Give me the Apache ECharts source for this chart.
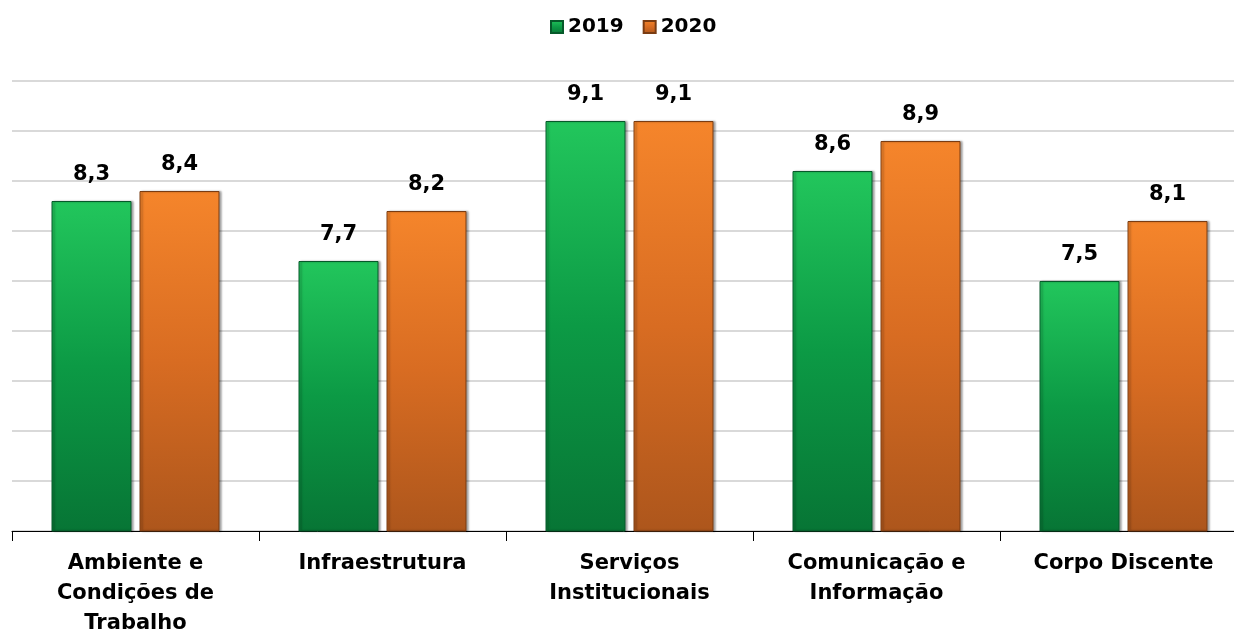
<!DOCTYPE html>
<html>
<head>
<meta charset="utf-8">
<script src="https://cdn.jsdelivr.net/npm/echarts@6/dist/echarts.min.js"></script>
<style>
  html, body { margin: 0; padding: 0; background: #fff; }
  #chart { width: 1234px; height: 633px; }
</style>
</head>
<body>
<div id="chart"></div>
<script>
const categories = [
  'Ambiente e\nCondições de\nTrabalho',
  'Infraestrutura',
  'Serviços\nInstitucionais',
  'Comunicação e\nInformação',
  'Corpo Discente'
];
const values2019 = [8.3, 7.7, 9.1, 8.6, 7.5];
const values2020 = [8.4, 8.2, 9.1, 8.9, 8.1];

const chart = echarts.init(document.getElementById('chart'));

const fontFamily = '"DejaVu Sans", sans-serif';

function barFill(top, mid, bottom) {
  return {
    type: 'linear', x: 0, y: 0, x2: 0, y2: 1,
    colorStops: [
      { offset: 0, color: top },
      { offset: 0.5, color: mid },
      { offset: 1, color: bottom }
    ]
  };
}

const labelStyle = {
  show: true,
  position: 'top',
  distance: 16,
  fontFamily: fontFamily,
  fontSize: 21,
  fontWeight: 'bold',
  color: '#000',
  formatter: (p) => p.value.toFixed(1).replace('.', ',')
};

const option = {
  animation: false,
  legend: {
    top: 12,
    left: 545,
    itemWidth: 12,
    itemHeight: 12,
    itemGap: 19,
    icon: 'rect',
    textStyle: {
      fontFamily: fontFamily,
      fontSize: 20,
      fontWeight: 'bold',
      color: '#000'
    },
    data: ['2019', '2020']
  },
  grid: {
    left: 12,
    top: 81,
    right: -13,
    bottom: 102,
    outerBoundsMode: 'none',
    containLabel: false
  },
  xAxis: {
    type: 'category',
    data: categories,
    axisLine: { lineStyle: { color: '#000', width: 1 } },
    axisTick: { show: true, length: 10, lineStyle: { color: '#000' } },
    axisLabel: {
      interval: 0,
      margin: 18,
      fontFamily: fontFamily,
      fontSize: 21,
      fontWeight: 'bold',
      color: '#000',
      lineHeight: 30
    }
  },
  yAxis: {
    type: 'value',
    min: 5,
    max: 9.5,
    interval: 0.5,
    axisLine: { show: false },
    axisTick: { show: false },
    axisLabel: { show: false },
    splitLine: { lineStyle: { color: '#d9d9d9', width: 2 } }
  },
  series: [
    {
      name: '2019',
      type: 'bar',
      data: values2019,
      barWidth: 80,
      barGap: '10%',
      itemStyle: {
        color: barFill('#22c65c', '#0c9a45', '#077535'),
        borderColor: '#06592a',
        borderWidth: 1,
        shadowColor: 'rgba(0,0,0,0.35)',
        shadowOffsetX: 2,
        shadowBlur: 2
      },
      label: labelStyle
    },
    {
      name: '2020',
      type: 'bar',
      data: values2020,
      barWidth: 80,
      itemStyle: {
        color: barFill('#f5852b', '#d86c22', '#ad561c'),
        borderColor: '#7a3c12',
        borderWidth: 1,
        shadowColor: 'rgba(0,0,0,0.35)',
        shadowOffsetX: 2,
        shadowBlur: 2
      },
      label: labelStyle
    }
  ]
};

chart.setOption(option);
</script>
</body>
</html>
